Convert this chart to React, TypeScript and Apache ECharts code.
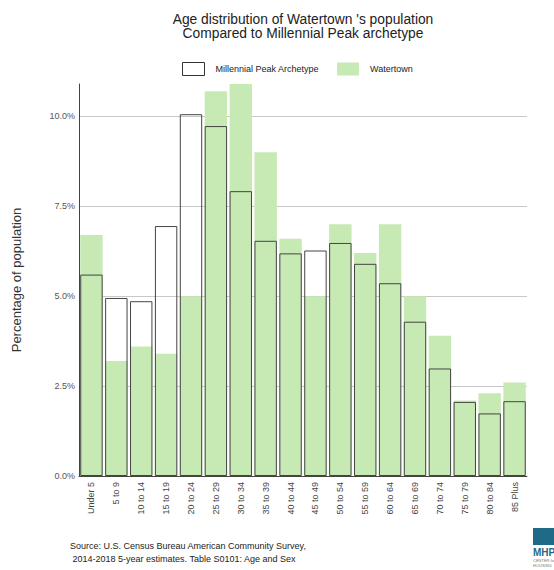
import React, { useEffect, useRef } from "react";
import * as echarts from "echarts";

const categories = [
  "Under 5", "5 to 9", "10 to 14", "15 to 19", "20 to 24", "25 to 29",
  "30 to 34", "35 to 39", "40 to 44", "45 to 49", "50 to 54", "55 to 59",
  "60 to 64", "65 to 69", "70 to 74", "75 to 79", "80 to 84", "85 Plus",
];
const watertown = [6.7, 3.2, 3.6, 3.4, 5.0, 10.7, 10.9, 9.0, 6.6, 5.0, 7.0, 6.2, 7.0, 5.0, 3.9, 2.1, 2.3, 2.6];
const archetype = [5.6, 4.95, 4.86, 6.95, 10.06, 9.73, 7.92, 6.54, 6.19, 6.27, 6.48, 5.9, 5.36, 4.29, 2.99, 2.06, 1.74, 2.08];
const yTicks = [0, 2.5, 5, 7.5, 10];

const FONT = "Liberation Sans, Arial, sans-serif";

export default function App() {
  const ref = useRef<HTMLDivElement>(null);
  useEffect(() => {
    if (!ref.current) return;
    document.body.style.margin = "0";
    const chart = echarts.init(ref.current, undefined, { renderer: "svg" });
    chart.setOption({
      animation: false,
      backgroundColor: "#fff",
      textStyle: { fontFamily: FONT },
      title: {
        text: "Age distribution of Watertown 's population\nCompared to Millennial Peak archetype",
        left: 298,
        textAlign: "center",
        top: 7,
        textStyle: { fontSize: 13.8, fontWeight: "normal", color: "#222", lineHeight: 14, fontFamily: FONT },
      },
      legend: {
        top: 57,
        left: 177,
        itemWidth: 22,
        itemHeight: 13,
        itemGap: 18,
        textStyle: { fontSize: 9, color: "#222", padding: [0, 0, 0, 6], fontFamily: FONT },
        data: [
          { name: "Millennial Peak Archetype", icon: "rect", itemStyle: { color: "#fff", borderColor: "#333", borderWidth: 1 } },
          { name: "Watertown", icon: "rect", itemStyle: { color: "#c7e9b4", borderWidth: 0 } },
        ],
      },
      grid: { left: 79, right: 27, top: 84, bottom: 94, containLabel: false },
      xAxis: {
        type: "category",
        data: categories,
        axisLine: { lineStyle: { color: "#444", width: 1 } },
        axisTick: { show: false },
        axisLabel: { rotate: 90, fontSize: 9, color: "#444", margin: 6, interval: 0, fontFamily: FONT },
      },
      yAxis: {
        type: "value",
        min: 0,
        max: 10.9,
        interval: 2.5,
        name: "Percentage of population",
        nameLocation: "middle",
        nameGap: 56,
        nameTextStyle: { fontSize: 13, color: "#333", fontFamily: FONT },
        axisLine: { show: true, lineStyle: { color: "#444", width: 1 } },
        axisTick: { show: false },
        axisLabel: {
          fontSize: 9,
          color: "#555",
          margin: 4,
          showMaxLabel: false,
          fontFamily: FONT,
          formatter: (v: number) => (yTicks.indexOf(v) >= 0 ? v.toFixed(1) + "%" : ""),
        },
        splitLine: { show: true, showMaxLine: false, showMinLine: false, lineStyle: { color: "#c8c8c8", width: 1 } },
      },
      series: [
        {
          name: "Watertown",
          type: "bar",
          data: watertown,
          barWidth: "90%",
          barGap: "-100%",
          itemStyle: { color: "#c7e9b4" },
          z: 2,
        },
        {
          name: "Millennial Peak Archetype",
          type: "bar",
          data: archetype,
          barWidth: "90%",
          barGap: "-100%",
          itemStyle: { color: "rgba(0,0,0,0)", borderColor: "#444", borderWidth: 1 },
          z: 3,
        },
      ],
      graphic: [
        {
          type: "text",
          left: 70,
          top: 539,
          style: {
            text: "Source: U.S. Census Bureau American Community Survey,\n 2014-2018 5-year estimates. Table S0101: Age and Sex",
            fontSize: 9,
            lineHeight: 13,
            fill: "#222",
            fontFamily: FONT,
          },
        },
        { type: "rect", shape: { x: 533, y: 528, width: 21, height: 17 }, style: { fill: "#1f6a86" } },
        {
          type: "text",
          x: 533,
          y: 547,
          style: { text: "MHP", fontSize: 10, fontWeight: "bold", fill: "#1f6a86", fontFamily: FONT },
        },
        {
          type: "text",
          x: 533,
          y: 558,
          style: { text: "CENTER fo\nHOUSING", fontSize: 4, lineHeight: 5, fill: "#777", fontFamily: FONT },
        },
      ],
    });
    return () => chart.dispose();
  }, []);
  return <div ref={ref} style={{ width: 554, height: 570 }} />;
}
